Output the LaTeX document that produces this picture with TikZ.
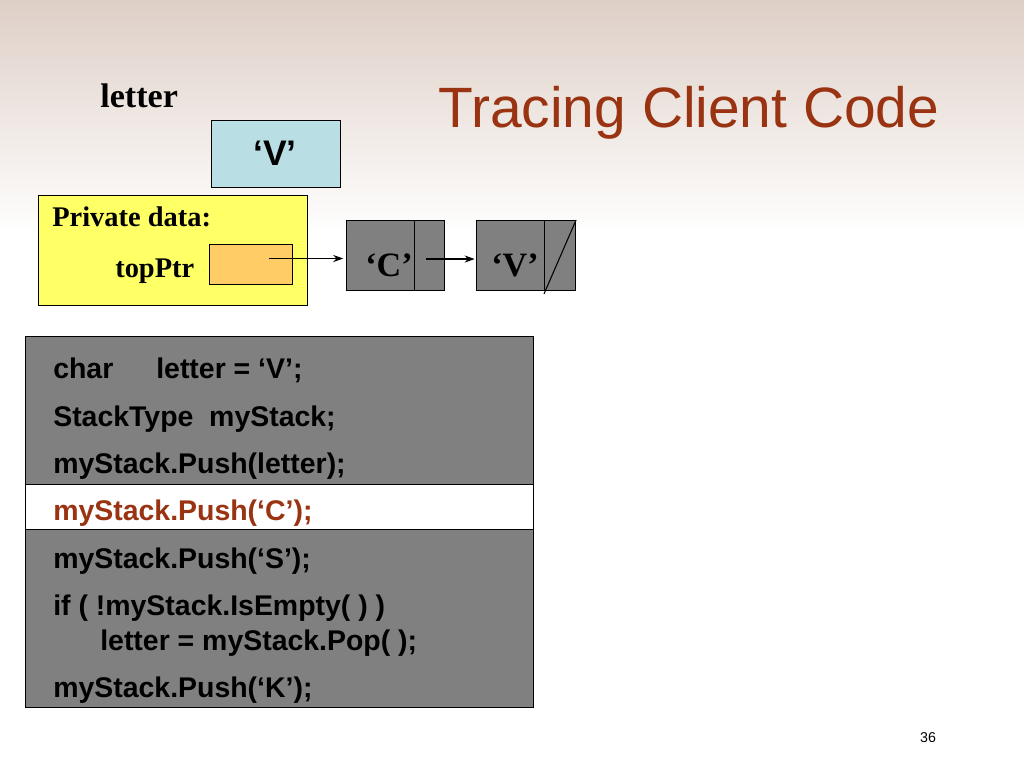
\documentclass[tikz,border=0pt]{standalone}
\usepackage{fontspec}
\setmainfont{Liberation Serif}
\setsansfont{Liberation Sans}
\usetikzlibrary{arrows.meta}

\definecolor{titlered}{RGB}{153,51,17}
\definecolor{letterblue}{RGB}{185,223,228}
\definecolor{privyellow}{RGB}{255,255,102}
\definecolor{ptrorange}{RGB}{255,204,102}
\definecolor{cellgray}{RGB}{128,128,128}
\definecolor{bgtan}{RGB}{222,207,198}
\newcommand{\pxu}{0.703125pt}

\begin{document}
\begin{tikzpicture}[x=0.703125pt,y=-0.703125pt,
	cell/.style={draw,line width=0.75pt,anchor=north west,inner sep=0pt},
	serifbold/.style={font=\bfseries\fontsize{20}{24}\selectfont,anchor=base west,inner sep=0pt},
	cellchar/.style={font=\bfseries\fontsize{24}{28}\selectfont,anchor=base,inner sep=0pt},
	codeline/.style={font=\sffamily\bfseries\fontsize{20}{24}\selectfont,anchor=base west,inner sep=0pt},
	link/.style={-{Stealth[length=7pt,width=5pt]},line width=0.75pt}]
				% background
				\fill[white] (0,0) rectangle (1024,768);
				\fill[top color=bgtan,bottom color=white] (0,0) rectangle (1024,235);
				
				\node (title) at (689,128) [anchor=base,inner sep=0pt,text=titlered,font=\sffamily\fontsize{40}{48}\selectfont] {Tracing Client Code};
				
				% variable letter
				\node (lettername) at (100,108) [serifbold,font=\bfseries\fontsize{24}{28}\selectfont] {letter};
				\node (letterbox) at (211,120) [cell,fill=letterblue,minimum width=129*\pxu,minimum height=67*\pxu] {};
				\node (letterval) at (275,166) [cellchar,font=\sffamily\bfseries\fontsize{25}{30}\selectfont] {‘V’};
				
				% private data of the stack
				\node (private) at (38,195) [cell,fill=privyellow,minimum width=269*\pxu,minimum height=110*\pxu] {};
				\node (privlabel) at (52,227) [serifbold] {Private data:};
				\node (toplabel) at (115,278) [serifbold] {topPtr};
				\node (topptr) at (209,244) [cell,fill=ptrorange,minimum width=83*\pxu,minimum height=40*\pxu] {};
				
				% linked nodes
				\node (cdata) at (346,220) [cell,fill=cellgray,minimum width=68*\pxu,minimum height=70*\pxu] {};
				\node (cnext) at (414,220) [cell,fill=cellgray,minimum width=30*\pxu,minimum height=70*\pxu] {};
				\node (vdata) at (476,220) [cell,fill=cellgray,minimum width=68*\pxu,minimum height=70*\pxu] {};
				\node (vnext) at (544,220) [cell,fill=cellgray,minimum width=31*\pxu,minimum height=70*\pxu] {};
				\node (cval) at (389,277) [cellchar] {‘C’};
				\node (vval) at (515,277) [cellchar] {‘V’};
				
				\draw[line width=0.75pt] ([yshift=-2pt]vnext.south west) -- (vnext.north east);
				\coordinate (toptail) at ([shift={(18,-6)}]topptr.center);
				\coordinate (ctail) at ([shift={(-4,3.5)}]cnext.center);
				\draw[link] (toptail) -- ([xshift=-2pt]toptail -| cdata.west);
				\draw[link] (ctail) -- ([xshift=-1pt]ctail -| vdata.west);
				
				% client code
				\node (code) at (25,336) [cell,fill=cellgray,minimum width=508*\pxu,minimum height=371*\pxu] {};
				\node (current) at (25,484) [cell,fill=white,minimum width=508*\pxu,minimum height=45*\pxu] {};
				\node (line1a) at (53,378) [codeline] {char};
				\node (line1b) at (156,378) [codeline] {letter = ‘V’;};
				\node (line2) at (53,426) [codeline] {StackType\ \ myStack;};
				\node (line3) at (53,473) [codeline] {myStack.Push(letter);};
				\node (line4) at (53,520) [codeline,text=titlered] {myStack.Push(‘C’);};
				\node (line5) at (53,568) [codeline] {myStack.Push(‘S’);};
				\node (line6) at (53,615) [codeline] {if ( !myStack.IsEmpty( ) )};
				\node (line7) at (100,650) [codeline] {letter = myStack.Pop( );};
				\node (line8) at (53,697) [codeline] {myStack.Push(‘K’);};
				
				\node (pagenum) at (928,742) [anchor=base,inner sep=0pt,font=\sffamily\fontsize{10}{12}\selectfont] {36};
\end{tikzpicture}
\end{document}
